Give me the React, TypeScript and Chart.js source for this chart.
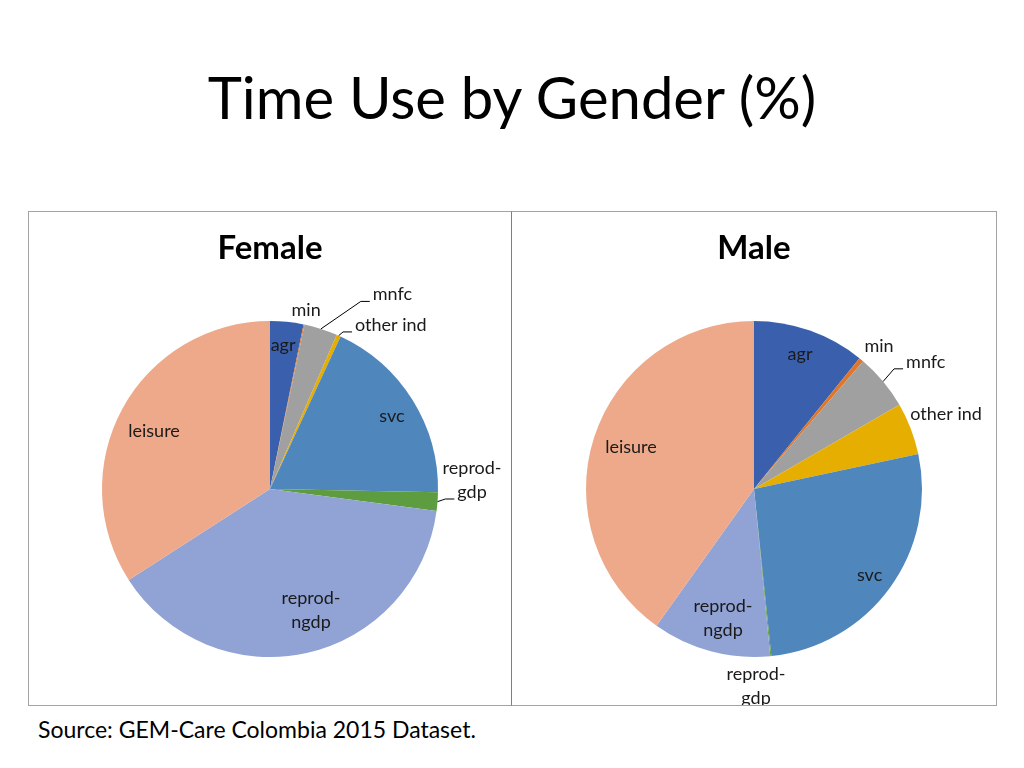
import React, { useEffect, useRef } from "react";
import { Chart, registerables } from "chart.js";

Chart.register(...registerables);

// ---------------- data ----------------
const categories = ["agr", "min", "mnfc", "other ind", "svc", "reprod-gdp", "reprod-ngdp", "leisure"];
const labelLines = [["agr"], ["min"], ["mnfc"], ["other ind"], ["svc"], ["reprod-", "gdp"], ["reprod-", "ngdp"], ["leisure"]];
const femaleValues = [3.2, 0.1, 3.2, 0.4, 18.4, 1.8, 38.8, 34.1];
const maleValues = [10.8, 0.45, 5.4, 5.0, 26.7, 0.1, 11.4, 40.15];
const sliceColors = ["#3A60AD", "#E0762A", "#A0A0A0", "#E6AE00", "#4F86BC", "#5E9C40", "#91A2D4", "#EDA98A"];

const FONT = "Lato, 'Open Sans', sans-serif";

// label placement: angle (deg clockwise from top), k = distance / radius
type LabelPos = { angle: number; k: number; align: "center" | "left"; leader?: boolean };
const femaleLabelPos: LabelPos[] = [
  { angle: 5.2, k: 0.86, align: "center" },
  { angle: 11.4, k: 1.087, align: "center" },
  { angle: 27.85, k: 1.31, align: "left", leader: true },
  { angle: 27.4, k: 1.1, align: "left", leader: true },
  { angle: 59.1, k: 0.846, align: "center" },
  { angle: 87.45, k: 1.204, align: "center", leader: true },
  { angle: 161.3, k: 0.762, align: "center" },
  { angle: 296.6, k: 0.772, align: "center" },
];
const maleLabelPos: LabelPos[] = [
  { angle: 18.8, k: 0.85, align: "center" },
  { angle: 41.2, k: 1.13, align: "center" },
  { angle: 50.1, k: 1.18, align: "left", leader: true },
  { angle: 68.7, k: 1.227, align: "center" },
  { angle: 126.6, k: 0.857, align: "center" },
  { angle: 179.4, k: 1.173, align: "center" },
  { angle: 193.5, k: 0.79, align: "center" },
  { angle: 288.9, k: 0.774, align: "center" },
];

const labelPlugin = {
  id: "sliceLabels",
  afterDatasetsDraw(chart: any) {
    const pos: LabelPos[] = chart.options.plugins.sliceLabels.pos;
    const ctx = chart.ctx;
    const meta = chart.getDatasetMeta(0);
    ctx.save();
    ctx.font = `18px ${FONT}`;
    ctx.fillStyle = "#1a1a1a";
    ctx.textBaseline = "middle";
    const lh = 24;
    meta.data.forEach((arc: any, i: number) => {
      const p = pos[i];
      const { x, y, startAngle, endAngle, outerRadius } = arc.getProps(
        ["x", "y", "startAngle", "endAngle", "outerRadius"],
        true
      );
      const a = ((p.angle - 90) * Math.PI) / 180;
      const tx = x + Math.cos(a) * p.k * outerRadius;
      const ty = y + Math.sin(a) * p.k * outerRadius;
      const lines = labelLines[i];
      ctx.textAlign = p.align;
      lines.forEach((t, j) => {
        const ly = ty + (j - (lines.length - 1) / 2) * lh;
        ctx.fillText(t, tx, ly);
      });
      if (p.leader) {
        const last = lines[lines.length - 1];
        const lastY = ty + ((lines.length - 1) / 2) * lh;
        const w = ctx.measureText(last).width;
        const left = p.align === "left" ? tx : tx - w / 2;
        const lineY = lastY + 7;
        const mid = (startAngle + endAngle) / 2;
        const rx = x + Math.cos(mid) * outerRadius;
        const ry = y + Math.sin(mid) * outerRadius;
        ctx.beginPath();
        ctx.strokeStyle = "#000";
        ctx.lineWidth = 1;
        ctx.moveTo(rx, ry);
        ctx.lineTo(left - 12, lineY);
        ctx.lineTo(left - 3, lineY);
        ctx.stroke();
      }
    });
    ctx.restore();
  },
};

function PieChart({ title, values, pos, width, height }: { title: string; values: number[]; pos: LabelPos[]; width: number; height: number }) {
  const ref = useRef<HTMLCanvasElement>(null);
  useEffect(() => {
    const side = (width - 336) / 2;
    const chart = new Chart(ref.current as HTMLCanvasElement, {
      type: "pie",
      data: {
        labels: categories,
        datasets: [{ data: values, backgroundColor: sliceColors, borderWidth: 0 }],
      },
      options: {
        responsive: false,
        animation: false,
        layout: { padding: { left: side, right: side, top: 0, bottom: 48 } },
        plugins: {
          legend: { display: false },
          tooltip: { enabled: false },
          title: {
            display: true,
            text: title,
            color: "#000",
            font: { family: FONT, size: 33, weight: "bold" },
            padding: { top: 16.2, bottom: 53.2 },
          },
          sliceLabels: { pos },
        } as any,
      },
      plugins: [labelPlugin],
    });
    return () => chart.destroy();
  }, []);
  return <canvas ref={ref} width={width} height={height} style={{ display: "block", width, height }} />;
}

export default function App() {
  return (
    <div style={{ position: "absolute", left: 0, top: 0, width: 1024, height: 768, background: "#fff", fontFamily: FONT }}>
      <div
        style={{
          position: "absolute",
          left: 0,
          top: 62,
          width: 1024,
          textAlign: "center",
          fontSize: 58,
          lineHeight: "70px",
          color: "#000",
        }}
      >
        Time Use by Gender (%)
      </div>
      <div style={{ position: "absolute", left: 28, top: 211, width: 482, height: 493, border: "1px solid #a3a3a3" }}>
        <PieChart title="Female" values={femaleValues} pos={femaleLabelPos} width={482} height={493} />
      </div>
      <div
        style={{
          position: "absolute",
          left: 511,
          top: 211,
          width: 484,
          height: 493,
          border: "1px solid #a3a3a3",
          borderLeft: "1px solid #7f7f7f",
        }}
      >
        <PieChart title="Male" values={maleValues} pos={maleLabelPos} width={484} height={493} />
      </div>
      <div style={{ position: "absolute", left: 38, top: 714, fontSize: 23, lineHeight: "30px", color: "#000" }}>
        Source: GEM-Care Colombia 2015 Dataset.
      </div>
    </div>
  );
}
